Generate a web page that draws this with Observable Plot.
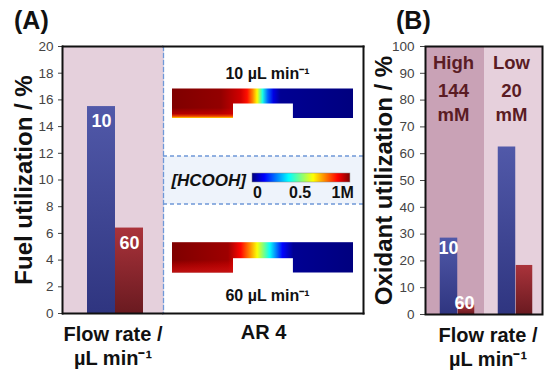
<!DOCTYPE html>
<html><head><meta charset="utf-8">
<script src="https://cdn.jsdelivr.net/npm/d3@7"></script>
<script src="https://cdn.jsdelivr.net/npm/@observablehq/plot@0.6"></script>
<style>
body{margin:0;background:#fff;}
#wrap{position:relative;width:544px;height:373px;overflow:hidden;font-family:"Liberation Sans",Arial,sans-serif;background:#fff;}
#wrap svg{position:absolute;top:0;}
.panel{position:absolute;font-weight:bold;font-size:25px;line-height:25px;color:#111;}
</style></head><body>
<div id="wrap"><div class="panel" style="left:14px;top:8px">(A)</div><div class="panel" style="left:396px;top:8px">(B)</div></div>
<script>
// ---------- data ----------
const flowRates = ["10", "60"];
const fuelUtilization = [15.5, 6.4];
const fuelTicks = [0, 2, 4, 6, 8, 10, 12, 14, 16, 18, 20];
const oxGroups = ["High", "Low"];
const oxConcentrations = ["144\nmM", "20\nmM"];
const oxUtil10 = [28.5, 62.5];
const oxUtil60 = [3.5, 18.3];
const oxTicks = [0, 10, 20, 30, 40, 50, 60, 70, 80, 90, 100];
// HCOOH concentration (M) along the channel (fraction of channel length)
const profilePos10 = [0, 0.27, 0.38, 0.415, 0.445, 0.47, 0.5, 0.53, 0.56, 0.6, 1];
const profileConc10 = [1, 0.98, 0.92, 0.86, 0.75, 0.63, 0.4, 0.22, 0.1, 0.02, 0];
const profilePos60 = [0, 0.31, 0.38, 0.43, 0.47, 0.54, 0.61, 0.67, 1];
const profileConc60 = [1, 0.97, 0.87, 0.74, 0.62, 0.38, 0.13, 0.02, 0];
const keyTicks = [0, 0.5, 1];
const keyTickLabels = ["0", "0.5", "1M"];
const jetDomain = [0, 0.125, 0.375, 0.625, 0.875, 1];
const jetColors = ["#00007f", "#0000ff", "#00ffff", "#ffff00", "#ff0000", "#7f0000"];

const FONT = '"Liberation Sans", Arial, sans-serif';
const wrap = document.getElementById("wrap");
const jet = Plot.scale({color: {type: "linear", domain: jetDomain, range: jetColors}});

function addGradient(svg, id, stops, vertical) {
  let defs = d3.select(svg).select("defs");
  if (defs.empty()) defs = d3.select(svg).insert("defs", ":first-child");
  const g = defs.append("linearGradient").attr("id", id)
    .attr("x1", 0).attr("y1", 0).attr("x2", vertical ? 0 : 1).attr("y2", vertical ? 1 : 0);
  stops.forEach(([o, c, a]) => g.append("stop").attr("offset", o).attr("stop-color", c).attr("stop-opacity", a == null ? 1 : a));
}

// ---------- Panel A: bars ----------
const fuel = flowRates.map((f, i) => ({flow: f, value: fuelUtilization[i]}));
const plotA = Plot.plot({
  width: 163, height: 373, marginLeft: 62, marginRight: 0, marginTop: 46, marginBottom: 60,
  style: {background: "transparent", fontFamily: FONT, overflow: "visible"},
  x: {type: "band", domain: flowRates, range: [86, 143], padding: 0, axis: null},
  y: {domain: [0, 20]},
  marks: [
    Plot.frame({fill: "#e5d0dc", stroke: null}),
    Plot.barY(fuel, {x: "flow", y: "value", filter: d => d.flow === "10", fill: "url(#barBlue)"}),
    Plot.barY(fuel, {x: "flow", y: "value", filter: d => d.flow === "60", fill: "url(#barRed)"}),
    Plot.text(fuel, {x: "flow", y: "value", text: "flow", dy: 15, fill: "white", fontSize: 18, fontWeight: "bold"}),
    Plot.axisY({ticks: fuelTicks, tickSize: 4, tickPadding: 5, fontSize: 13.5, color: "#444", label: null}),
    Plot.ruleY([0, 20], {stroke: "#111", strokeWidth: 2}),
    Plot.frame({anchor: "left", stroke: "#111", strokeWidth: 2}),
    Plot.text(["Fuel utilization / %"], {frameAnchor: "left", textAnchor: "middle", rotate: -90, dx: -38, fontSize: 24, fontWeight: "bold", fill: "#111"}),
    Plot.text(["Flow rate /\nµL min⁻¹"], {frameAnchor: "bottom", lineAnchor: "top", dy: 10.8, lineHeight: 1.2, fontSize: 20, fontWeight: "bold", fill: "#111"})
  ]
});
addGradient(plotA, "barBlue", [[0, "#5159a9"], [1, "#2f3580"]], true);
addGradient(plotA, "barRed", [[0, "#aa333b"], [1, "#6a1a20"]], true);
plotA.style.left = "0px";
wrap.appendChild(plotA);

// ---------- Panel A: HCOOH maps ----------
const rows = flowRates.map(f => ({flow: f}));
const keyRow = [{flow: "key"}];
const keyStart = 0.442, keyEnd = 0.983, notchStart = 0.337, notchEnd = 0.668;
const dash = {stroke: "#6f98d8", strokeDasharray: "4,3", strokeWidth: 1.3};
const plotH = Plot.plot({
  width: 201, height: 373, marginLeft: 0, marginRight: 1, marginTop: 46, marginBottom: 60,
  style: {background: "transparent", fontFamily: FONT, overflow: "visible"},
  x: {domain: [0, 1], range: [9, 190], axis: null},
  y: {type: "band", domain: ["10", "key", "60"], range: [64.5, 294.5], padding: 0, axis: null},
  marks: [
    Plot.ruleY(keyRow, {y: "flow", stroke: "#eef3fb", strokeWidth: 48, dy: -0.5}),
    Plot.ruleY(keyRow, {y: "flow", dy: -24.5, ...dash}),
    Plot.ruleY(keyRow, {y: "flow", dy: 23.5, ...dash}),
    Plot.frame({anchor: "left", ...dash}),
    Plot.frame({anchor: "top", stroke: "#111", strokeWidth: 2}),
    Plot.frame({anchor: "right", stroke: "#111", strokeWidth: 2}),
    Plot.frame({anchor: "bottom", stroke: "#111", strokeWidth: 2}),
    Plot.barX(rows, {y: "flow", x1: () => 0, x2: () => 1, filter: d => d.flow === "10", fill: "url(#conc10)", insetTop: 22.5, insetBottom: 24}),
    Plot.barX(rows, {y: "flow", x1: () => 0, x2: () => 1, filter: d => d.flow === "60", fill: "url(#conc60)", insetTop: 24.2, insetBottom: 21.5}),
    Plot.barX(rows, {y: "flow", x1: () => 0, x2: () => notchStart, filter: d => d.flow === "10", fill: "url(#edge10)", insetTop: 42, insetBottom: 24}),
    Plot.barX(rows, {y: "flow", x1: () => 0, x2: () => notchStart, filter: d => d.flow === "60", fill: "url(#edge60)", insetTop: 42, insetBottom: 21.5}),
    Plot.barX(rows, {y: "flow", x1: () => notchStart, x2: () => notchEnd, filter: d => d.flow === "10", fill: "white", insetTop: 37.5, insetBottom: 23.5}),
    Plot.barX(rows, {y: "flow", x1: () => notchStart, x2: () => notchEnd, filter: d => d.flow === "60", fill: "white", insetTop: 40.2, insetBottom: 21}),
    Plot.barX(keyRow, {y: "flow", x1: () => keyStart, x2: () => keyEnd, fill: "url(#jetbar)", stroke: "#888", strokeWidth: 0.5, insetTop: 31, insetBottom: 36}),
    Plot.text(keyTicks, {x: v => 0.47 + v * 0.47, y: () => "key", text: (v, i) => keyTickLabels[i], dy: 12, fontSize: 16, fontWeight: "bold", fill: "#111"}),
    Plot.text(keyRow, {x: () => 0.2, y: "flow", text: () => "[HCOOH]", fontSize: 17, fontWeight: "bold", fontStyle: "italic", fill: "#111"}),
    Plot.text(rows, {x: () => 0.525, y: "flow", filter: d => d.flow === "10", text: d => `${d.flow} µL min⁻¹`, lineAnchor: "bottom", dy: -26, fontSize: 16, fontWeight: "bold", fill: "#111"}),
    Plot.text(rows, {x: () => 0.525, y: "flow", filter: d => d.flow === "60", text: d => `${d.flow} µL min⁻¹`, lineAnchor: "bottom", dy: 44, fontSize: 16, fontWeight: "bold", fill: "#111"}),
    Plot.text(["AR 4"], {frameAnchor: "bottom", lineAnchor: "top", dy: 10.8, fontSize: 20, fontWeight: "bold", fill: "#111"})
  ]
});
addGradient(plotH, "conc10", profilePos10.map((p, i) => [p, jet.apply(profileConc10[i])]));
addGradient(plotH, "conc60", profilePos60.map((p, i) => [p, jet.apply(profileConc60[i])]));
addGradient(plotH, "jetbar", jetDomain.map((d, i) => [d, jetColors[i]]));
addGradient(plotH, "edge10", [[0, "#ff0000", 0], [0.55, "#e00000", 0.5], [0.85, "#ff6000", 0.9], [1, "#ffe000", 1]], true);
addGradient(plotH, "edge60", [[0, "#ff0000", 0], [1, "#d01818", 0.75]], true);
plotH.style.left = "163px";
wrap.appendChild(plotH);

// ---------- Panel B ----------
const ox = [];
oxGroups.forEach((g, i) => {
  ox.push({group: g, flow: "10", value: oxUtil10[i]});
  ox.push({group: g, flow: "60", value: oxUtil60[i]});
});
const groupRows = oxGroups.map((g, i) => ({group: g, conc: oxConcentrations[i]}));
const yDomainB = [0, 100];
const plotB = Plot.plot({
  width: 181, height: 373, marginLeft: 62, marginRight: 2, marginTop: 46, marginBottom: 59,
  style: {background: "transparent", fontFamily: FONT, overflow: "visible"},
  x: {type: "band", domain: oxGroups, padding: 0, axis: null},
  y: {domain: yDomainB},
  color: {domain: oxGroups, range: ["#c9a2b6", "#e6d0dc"]},
  marks: [
    Plot.barY(groupRows, {x: "group", y1: () => yDomainB[0], y2: () => yDomainB[1], fill: "group"}),
    Plot.barY(ox, {x: "group", y: "value", filter: d => d.flow === "10", fill: "url(#oxBlue)", insetLeft: 13.75, insetRight: 26.75}),
    Plot.barY(ox, {x: "group", y: "value", filter: d => d.flow === "60", fill: "url(#oxRed)", insetLeft: 31.75, insetRight: 9.75}),
    Plot.text(ox, {x: "group", y: "value", filter: d => d.group === "High" && d.flow === "10", text: "flow", dx: -7, dy: 10.5, fill: "white", fontSize: 18, fontWeight: "bold"}),
    Plot.text(ox, {x: "group", y: "value", filter: d => d.group === "High" && d.flow === "60", text: "flow", dx: 9, dy: -2, fill: "white", fontSize: 18, fontWeight: "bold"}),
    Plot.text(groupRows, {x: "group", text: "group", frameAnchor: "top", lineAnchor: "bottom", dy: 22, dx: -2, fontSize: 18.5, fontWeight: "bold", fill: "#5a1c24"}),
    Plot.text(groupRows, {x: "group", text: "conc", frameAnchor: "top", lineAnchor: "bottom", dy: 74, dx: -2, lineHeight: 1.25, fontSize: 18.5, fontWeight: "bold", fill: "#5a1c24"}),
    Plot.axisY({ticks: oxTicks, tickSize: 5, tickPadding: 6, fontSize: 13.5, color: "#444", label: null}),
    Plot.frame({stroke: "#111", strokeWidth: 2}),
    Plot.text(["Oxidant utilization / %"], {frameAnchor: "left", textAnchor: "middle", rotate: -90, dx: -41, fontSize: 24, fontWeight: "bold", fill: "#111"}),
    Plot.text(["Flow rate /\nµL min⁻¹"], {frameAnchor: "bottom", lineAnchor: "top", dy: 10.8, dx: 4, lineHeight: 1.2, fontSize: 20, fontWeight: "bold", fill: "#111"})
  ]
});
addGradient(plotB, "oxBlue", [[0, "#5159a9"], [1, "#2f3580"]], true);
addGradient(plotB, "oxRed", [[0, "#aa333b"], [1, "#6a1a20"]], true);
plotB.style.left = "363px";
wrap.appendChild(plotB);
</script>
</body></html>
